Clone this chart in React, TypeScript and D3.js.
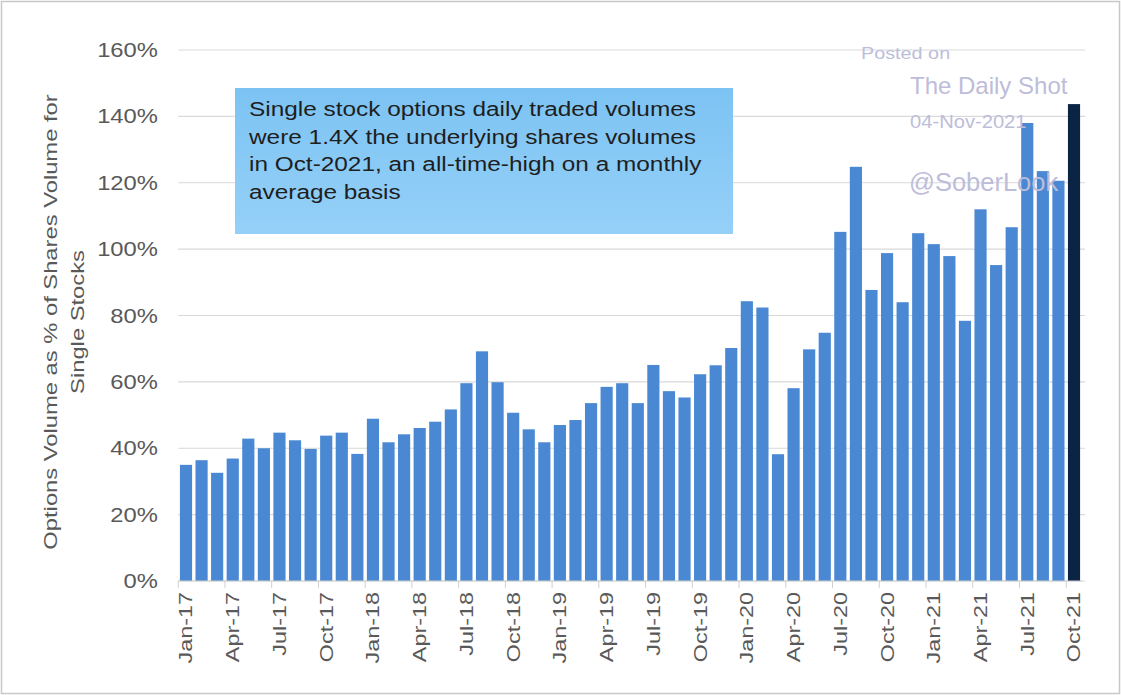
import React from "react";
import * as d3 from "d3";

const months = [
  "Jan-17","Feb-17","Mar-17","Apr-17","May-17","Jun-17","Jul-17","Aug-17","Sep-17","Oct-17","Nov-17","Dec-17",
  "Jan-18","Feb-18","Mar-18","Apr-18","May-18","Jun-18","Jul-18","Aug-18","Sep-18","Oct-18","Nov-18","Dec-18",
  "Jan-19","Feb-19","Mar-19","Apr-19","May-19","Jun-19","Jul-19","Aug-19","Sep-19","Oct-19","Nov-19","Dec-19",
  "Jan-20","Feb-20","Mar-20","Apr-20","May-20","Jun-20","Jul-20","Aug-20","Sep-20","Oct-20","Nov-20","Dec-20",
  "Jan-21","Feb-21","Mar-21","Apr-21","May-21","Jun-21","Jul-21","Aug-21","Sep-21","Oct-21",
];

const values = [
  35.0, 36.4, 32.6, 36.9, 42.9, 40.0, 44.7, 42.4, 39.8, 43.8, 44.7, 38.3,
  48.9, 41.8, 44.2, 46.1, 48.0, 51.7, 59.6, 69.2, 59.9, 50.7, 45.7, 41.8,
  47.0, 48.5, 53.6, 58.5, 59.6, 53.6, 65.1, 57.2, 55.3, 62.3, 65.0, 70.2,
  84.3, 82.4, 38.2, 58.1, 69.8, 74.8, 105.2, 124.8, 87.7, 98.8, 84.0, 104.8,
  101.5, 97.9, 78.4, 112.0, 95.2, 106.6, 138.0, 123.5, 120.6, 143.7,
];

const yTicks = [0, 20, 40, 60, 80, 100, 120, 140, 160];

const noteLines = [
  "Single stock options daily traded volumes",
  "were 1.4X the underlying  shares volumes",
  "in Oct-2021, an all-time-high  on a monthly",
  "average basis",
];

const yTitleLines = ["Options Volume as % of Shares Volume for", "Single Stocks"];

const W = 1121;
const H = 695;
const left = 178.2;
const right = 1081.8;
const top = 50;
const bottom = 581;

export default function App() {
  const x = d3.scaleBand<string>().domain(months).range([left, right]).paddingInner(0.22).paddingOuter(0.11);
  const y = d3.scaleLinear().domain([0, 160]).range([bottom, top]);
  const step = x.step();
  const font = "'Liberation Sans', Arial, sans-serif";
  const gray = "#595959";
  const wm = "#bdbdda";

  return (
    <svg width={W} height={H} style={{ position: "absolute", left: 0, top: 0, background: "#fff" }} fontFamily={font}>
      <defs>
        <linearGradient id="boxg" x1="0" y1="0" x2="0" y2="1">
          <stop offset="0" stopColor="#7cc3f3" />
          <stop offset="1" stopColor="#95d0f8" />
        </linearGradient>
      </defs>
      <rect x={1.5} y={1.5} width={W - 3} height={H - 3} fill="#fff" stroke="#c8c8c8" strokeWidth={1.5} />
      {yTicks.map((t) => (
        <line key={t} x1={left} x2={1085} y1={y(t)} y2={y(t)} stroke="#d9d9d9" strokeWidth={1.2} />
      ))}
      {yTicks.map((t) => (
        <text
          key={"l" + t}
          transform={`translate(158,${y(t)}) scale(1.22,1)`}
          dy="0.36em"
          textAnchor="end"
          fontSize={19.5}
          fill={gray}
        >
          {t}%
        </text>
      ))}
      <g transform={`translate(57,322) rotate(-90)`}>
        {yTitleLines.map((l, i) => (
          <text key={i} transform={`translate(0,${i * 27}) scale(1.25,1)`} textAnchor="middle" fontSize={19} fill={gray}>
            {l}
          </text>
        ))}
      </g>
      {values.map((v, i) => (
        <rect
          key={months[i]}
          x={x(months[i])}
          y={y(v)}
          width={x.bandwidth()}
          height={bottom - y(v)}
          fill={i === values.length - 1 ? "#0c2443" : "#4a88d3"}
        />
      ))}
      <line x1={left} x2={right} y1={bottom} y2={bottom} stroke="#d0d0d0" strokeWidth={1} />
      {months.map((m, i) =>
        i % 3 === 0 ? (
          <g key={"t" + m}>
            <line x1={(x(m) as number) - step * 0.11} x2={(x(m) as number) - step * 0.11} y1={bottom} y2={bottom + 7} stroke="#d0d0d0" />
            <text
              transform={`translate(${(x(m) as number) + x.bandwidth() / 2},${bottom + 11}) rotate(-90) scale(1.3,1)`}
              textAnchor="end"
              dy="0.36em"
              fontSize={18}
              fill={gray}
            >
              {m}
            </text>
          </g>
        ) : null
      )}
      <rect x={235} y={88} width={498} height={146} fill="url(#boxg)" />
      {noteLines.map((l, i) => (
        <text key={i} transform={`translate(249,${116 + i * 27.5}) scale(1.25,1)`} fontSize={19.5} fill="#1e1e1e">
          {l}
        </text>
      ))}
      <text transform="translate(861,59) scale(1.2,1)" fontSize={16.5} fill={wm}>Posted on</text>
      <text x={910} y={94} fontSize={24} fill={wm}>The Daily Shot</text>
      <text transform="translate(910,128) scale(1.12,1)" fontSize={18} fill={wm}>04-Nov-2021</text>
      <text x={909} y={191} fontSize={25.5} fill={wm}>@SoberLook</text>
    </svg>
  );
}
